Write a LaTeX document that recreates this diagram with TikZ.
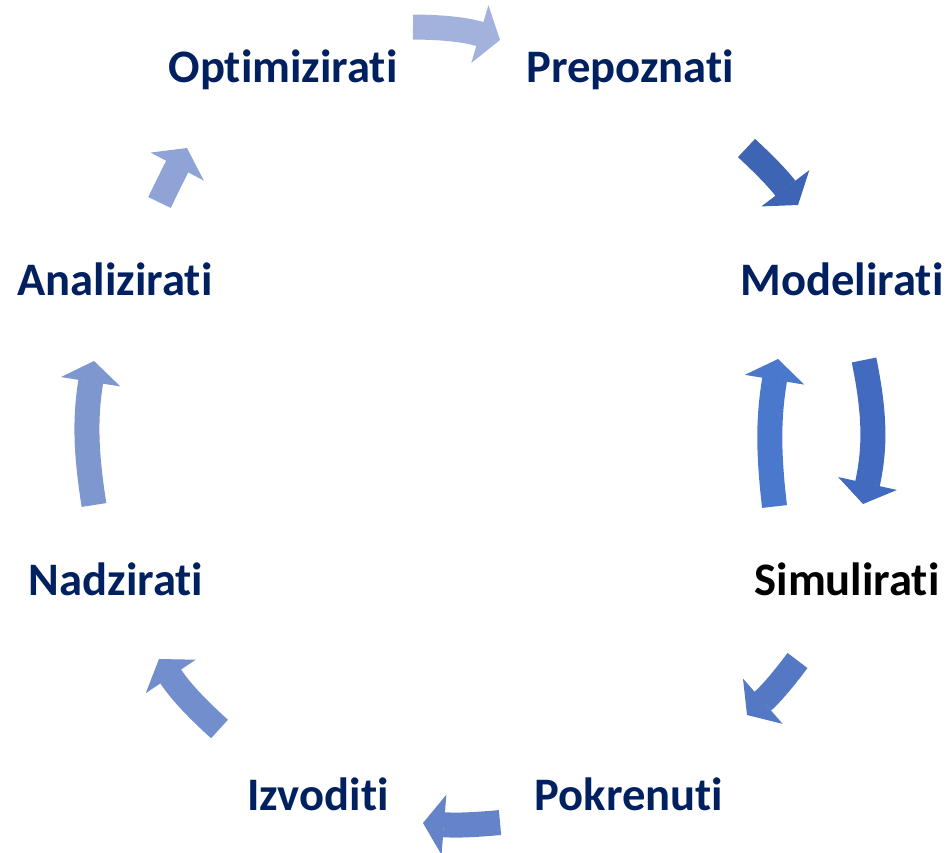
\documentclass[tikz,border=0pt]{standalone}
\usepackage{fontspec}
\setmainfont[Ligatures=NoCommon]{Carlito}
\usetikzlibrary{arrows.meta}
\definecolor{txtblue}{HTML}{002060}
\definecolor{cA}{HTML}{A3B2DD}
\definecolor{cB}{HTML}{3E64B4}
\definecolor{cC}{HTML}{426ABE}
\definecolor{cD}{HTML}{4A78CC}
\definecolor{cE}{HTML}{5478C4}
\definecolor{cF}{HTML}{6483C8}
\definecolor{cG}{HTML}{728ECC}
\definecolor{cH}{HTML}{7F97CF}
\definecolor{cI}{HTML}{8FA3D6}
\begin{document}
\begin{tikzpicture}[x=0.5pt,y=0.5pt,
  lbl/.style={anchor=base,inner sep=0pt,text=txtblue,font=\fontsize{23.3}{28}\selectfont\bfseries},
  blk/.style={line width=12.5pt,-{Triangle[length=10.5pt,width=30pt,line width=0.6pt]}}]
\useasboundingbox (0,0) rectangle (951,-852);
% the steps
\node[lbl] (opt) at (283,-82) {Optimizirati};
\node[lbl] (prep) at (630,-82) {Prepoznati};
\node[lbl] (model) at (842,-295) {Modelirati};
\node[lbl,text=black] (sim) at (847,-595) {Simulirati};
\node[lbl] (pokr) at (629,-810) {Pokrenuti};
\node[lbl] (izv) at (318,-810) {Izvoditi};
\node[lbl] (nadz) at (116,-595) {Nadzirati};
\node[lbl] (anal) at (115,-295) {Analizirati};
% arrow ends
\coordinate (optS) at (413,-27);  \coordinate (optE) at (500,-40);
\coordinate (prepS) at (746.5,-148); \coordinate (prepE) at (798,-205);
\coordinate (modS) at (864,-360); \coordinate (modE) at (863,-504);
\coordinate (simU) at (774.5,-506.5); \coordinate (simUE) at (778,-359);
\coordinate (simS) at (797.5,-660.5); \coordinate (simE) at (747,-715);
\coordinate (pokS) at (500,-822.5); \coordinate (pokE) at (423,-823);
\coordinate (izvS) at (219.5,-729); \coordinate (izvE) at (159,-659);
\coordinate (nadS) at (94,-505); \coordinate (nadE) at (94,-361);
\coordinate (anaS) at (159.5,-202.5); \coordinate (anaE) at (187,-148);
% the cycle
\draw[blk,cA] (optS) to[bend left=8] (optE);
\draw[blk,cB] (prepS) to[bend left=5] (prepE);
\draw[blk,cC] (modS) to[bend left=12] (modE);
\draw[blk,cD] (simU) to[bend left=8] (simUE);
\draw[blk,cE] (simS) to[bend left=6] (simE);
\draw[blk,cF] (pokS) to[bend left=5] (pokE);
\draw[blk,cG] (izvS) to[bend left=7] (izvE);
\draw[blk,cH] (nadS) to[bend left=9] (nadE);
\draw[blk,cI] (anaS) to[bend left=1] (anaE);
\end{tikzpicture}
\end{document}
